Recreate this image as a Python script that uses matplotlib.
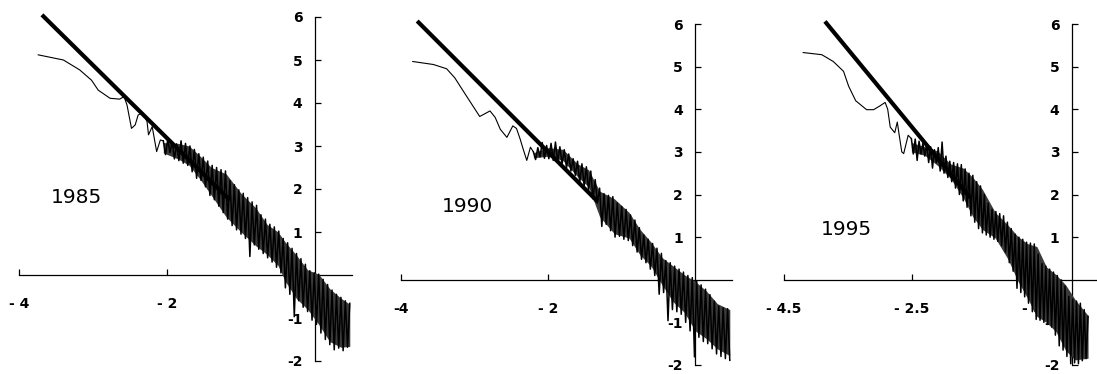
import matplotlib
matplotlib.use('Agg')
import matplotlib.pyplot as plt
import numpy as np

# ---- data (log-log spectra, three years) ----
years = ['1985', '1990', '1995']

# thick straight fitted line, end points
fit85_x = [-3.69, -1.15]
fit85_y = [6.05, 1.74]
fit90_x = [-3.78, -1.33]
fit90_y = [6.07, 1.84]
fit95_x = [-3.86, -1.59]
fit95_y = [6.06, 1.92]

# thin line, low-frequency (smooth) part
low85_x = [-3.74, -3.40, -3.18, -3.02, -2.93, -2.77, -2.64, -2.58, -2.54, -2.48,
           -2.43, -2.39, -2.33, -2.27, -2.25, -2.20, -2.14, -2.09]
low85_y = [5.12, 5.00, 4.77, 4.53, 4.30, 4.11, 4.09, 4.15, 3.95, 3.41,
           3.49, 3.72, 3.78, 3.57, 3.26, 3.45, 2.87, 3.14]
low90_x = [-3.84, -3.56, -3.38, -3.27, -3.11, -2.93, -2.79, -2.72, -2.65, -2.56,
           -2.48, -2.43, -2.38, -2.34, -2.29, -2.24]
low90_y = [5.12, 5.05, 4.95, 4.74, 4.31, 3.83, 3.96, 3.81, 3.53, 3.34,
           3.61, 3.55, 3.30, 3.07, 2.80, 3.11]
low95_x = [-4.20, -3.91, -3.73, -3.57, -3.49, -3.38, -3.21, -3.10, -3.00, -2.92,
           -2.88, -2.84, -2.77, -2.73, -2.70, -2.66, -2.63, -2.56]
low95_y = [5.33, 5.28, 5.12, 4.89, 4.54, 4.20, 3.99, 3.99, 4.08, 4.16,
           4.00, 3.58, 3.45, 3.70, 3.39, 3.00, 2.96, 3.39]

# thin line, noisy high-frequency part (evenly spaced samples)
hi85_range = (-2.05, 0.47)
hi85_y = [3.12, 2.80, 3.15, 2.85, 3.10, 2.70, 3.05, 2.66, 3.12, 2.60,
          3.06, 2.55, 3.00, 2.40, 2.92, 2.25, 2.82, 2.20, 2.74, 2.05,
          2.65, 1.85, 2.55, 1.75, 2.50, 1.60, 2.45, 1.45, 2.42, 1.30,
          2.20, 1.15, 2.10, 1.05, 1.98, 0.95, 1.90, 0.85, 1.80, 0.43,
          1.70, 0.70, 1.62, 0.60, 1.40, 0.50, 1.30, 0.40, 1.18, 0.30,
          1.12, 0.18, 1.02, 0.05, 0.85, -0.30, 0.75, -0.45, 0.62, -0.97,
          0.50, -0.60, 0.38, -0.75, 0.25, -0.85, 0.10, -1.05, 0.05, -1.15,
          0.02, -1.35, -0.10, -1.50, -0.22, -1.62, -0.35, -1.74, -0.45, -1.70,
          -0.52, -1.76, -0.60, -1.68, -0.66]
hi90_range = (-2.20, 0.47)
hi90_y = [3.00, 2.82, 3.10, 2.88, 3.22, 2.85, 3.15, 2.84, 3.20, 2.80,
          3.23, 2.78, 3.12, 2.72, 3.05, 2.62, 2.95, 2.55, 2.84, 2.45,
          2.78, 2.28, 2.72, 2.20, 2.65, 2.10, 2.55, 1.90, 2.35, 1.80,
          2.15, 1.25, 2.02, 1.30, 1.98, 1.15, 1.95, 1.00, 1.80, 1.02,
          1.72, 0.95, 1.65, 0.92, 1.52, 0.80, 1.40, 0.65, 1.22, 0.48,
          1.05, 0.40, 0.95, 0.25, 0.85, 0.10, 0.74, -0.34, 0.62, -0.30,
          0.45, -0.96, 0.40, -0.70, 0.32, -0.75, 0.25, -0.81, 0.18, -1.00,
          0.10, -1.20, 0.05, -1.81, -0.02, -1.35, -0.12, -1.45, -0.22, -1.50,
          -0.35, -1.62, -0.50, -1.74, -0.62, -1.80, -0.66, -1.85, -0.68, -1.89]
hi95_range = (-2.51, 0.25)
hi95_y = [3.31, 2.95, 3.30, 2.80, 3.25, 2.95, 3.20, 2.90, 3.18, 2.75,
          3.12, 2.62, 3.05, 2.75, 3.10, 2.55, 3.23, 2.50, 2.90, 2.40,
          2.78, 2.30, 2.75, 2.15, 2.72, 2.00, 2.70, 1.85, 2.60, 1.70,
          2.50, 1.50, 2.45, 1.35, 2.30, 1.20, 2.20, 1.10, 2.00, 1.05,
          1.80, 1.00, 1.65, 0.95, 1.60, 0.90, 1.55, 0.80, 1.50, 0.65,
          1.35, 0.40, 1.20, 0.20, 1.07, -0.20, 1.00, -0.30, 0.95, -0.40,
          0.88, -0.55, 0.86, -0.75, 0.84, -0.93, 0.60, -0.95, 0.38, -1.00,
          0.32, -1.05, 0.25, -1.10, 0.18, -1.30, 0.10, -1.55, 0.00, -1.65,
          -0.15, -1.80, -0.39, -1.97, -0.45, -1.95, -0.50, -1.97, -0.55, -1.90,
          -0.70, -1.85, -0.86]

# dense body of the noisy band (inner upper / lower edges)
band85_x = [-2.05, -1.85, -1.70, -1.55, -1.40, -1.20, -1.00, -0.80, -0.65,
            -0.50, -0.40, -0.25, -0.10, 0.05, 0.20, 0.35, 0.47]
band85_hi = [3.08, 3.06, 3.00, 2.76, 2.50, 2.35, 1.90, 1.56, 1.18,
             1.00, 0.76, 0.46, 0.12, 0.02, -0.32, -0.54, -0.68]
band85_lo = [2.84, 2.70, 2.55, 2.22, 1.85, 1.35, 1.00, 0.68, 0.48,
             0.22, -0.15, -0.55, -0.80, -1.15, -1.55, -1.68, -1.66]
band90_x = [-2.20, -2.00, -1.80, -1.60, -1.45, -1.30, -1.10, -0.90, -0.75,
            -0.60, -0.45, -0.30, -0.15, 0.00, 0.15, 0.30, 0.47]
band90_hi = [2.98, 3.10, 3.06, 2.72, 2.58, 2.08, 1.90, 1.58, 1.18,
             0.88, 0.52, 0.32, 0.12, -0.04, -0.26, -0.56, -0.70]
band90_lo = [2.86, 2.90, 2.80, 2.42, 2.18, 1.48, 1.08, 0.98, 0.58,
             0.32, -0.12, -0.52, -0.76, -1.20, -1.38, -1.62, -1.78]
band95_x = [-2.51, -2.30, -2.10, -1.90, -1.70, -1.55, -1.40, -1.20, -1.00,
            -0.85, -0.70, -0.55, -0.40, -0.25, -0.10, 0.05, 0.25]
band95_hi = [3.22, 3.12, 3.02, 2.72, 2.62, 2.40, 2.12, 1.58, 1.28,
             1.02, 0.85, 0.78, 0.30, 0.12, -0.12, -0.47, -0.84]
band95_lo = [3.00, 2.92, 2.68, 2.38, 1.92, 1.48, 1.18, 0.98, 0.48,
             -0.02, -0.42, -0.86, -1.00, -1.22, -1.66, -1.88, -1.84]

# axis ranges and tick labels
xlims = [(-4.0, 0.5), (-4.0, 0.5), (-4.5, 0.39)]
xticks = [[-4, -2], [-4, -2], [-4.5, -2.5, -0.5]]
xticklabels = [['- 4', '- 2'], ['-4', '- 2'], ['- 4.5', '- 2.5', '- 0.5']]
yticks = [6, 5, 4, 3, 2, 1, -1, -2]
yticklabels = ['6', '5', '4', '3', '2', '1', '-1', '-2']
year_pos = [(-3.22, 1.81), (-3.09, 1.72), (-3.52, 1.18)]

# axes boxes in pixels: left, right, top, bottom
boxes = [(19, 352, 17, 361), (401, 732, 24, 365), (784, 1097, 24, 365)]

W, H = 1097, 374
fig = plt.figure(figsize=(W / 100, H / 100), dpi=100)

fits = [(fit85_x, fit85_y), (fit90_x, fit90_y), (fit95_x, fit95_y)]
lows = [(low85_x, low85_y), (low90_x, low90_y), (low95_x, low95_y)]
his = [(hi85_range, hi85_y), (hi90_range, hi90_y), (hi95_range, hi95_y)]
bands = [(band85_x, band85_lo, band85_hi), (band90_x, band90_lo, band90_hi),
         (band95_x, band95_lo, band95_hi)]

for i in range(3):
    l, r, t, b = boxes[i]
    ax = fig.add_axes([l / W, 1 - b / H, (r - l) / W, (b - t) / H])
    ax.set_xlim(*xlims[i])
    ax.set_ylim(-2, 6)

    bx, blo, bhi = bands[i]
    ax.fill_between(bx, blo, bhi, color='#3a3a3a', lw=0, zorder=3,
                    clip_on=False)
    hx = np.linspace(his[i][0][0], his[i][0][1], len(his[i][1]))
    ax.plot(lows[i][0] + [hx[0]], lows[i][1] + [his[i][1][0]],
            color='black', lw=0.8, zorder=3, clip_on=False)
    ax.plot(hx, his[i][1], color='black', lw=1.1, zorder=3, clip_on=False)
    ax.plot(fits[i][0], fits[i][1], color='black', lw=3.0,
            solid_capstyle='butt', zorder=4, clip_on=False)

    for side in ['top', 'right']:
        ax.spines[side].set_visible(False)
    ax.spines['left'].set_position(('data', 0))
    ax.spines['bottom'].set_position(('data', 0))
    for side in ['left', 'bottom']:
        ax.spines[side].set_linewidth(0.9)
        ax.spines[side].set_zorder(2)

    ax.set_xticks(xticks[i])
    ax.set_xticklabels(xticklabels[i])
    ax.set_yticks(yticks)
    ax.set_yticklabels(yticklabels)
    ax.tick_params(direction='in', length=4, width=0.9, labelsize=10)
    ax.tick_params(axis='x', pad=16)
    ax.tick_params(axis='y', pad=9)
    for lab in ax.get_xticklabels() + ax.get_yticklabels():
        lab.set_fontweight('bold')

    ax.text(year_pos[i][0], year_pos[i][1], years[i], fontsize=14.5,
            ha='center', va='center')

fig.savefig('out.png', dpi=100)
